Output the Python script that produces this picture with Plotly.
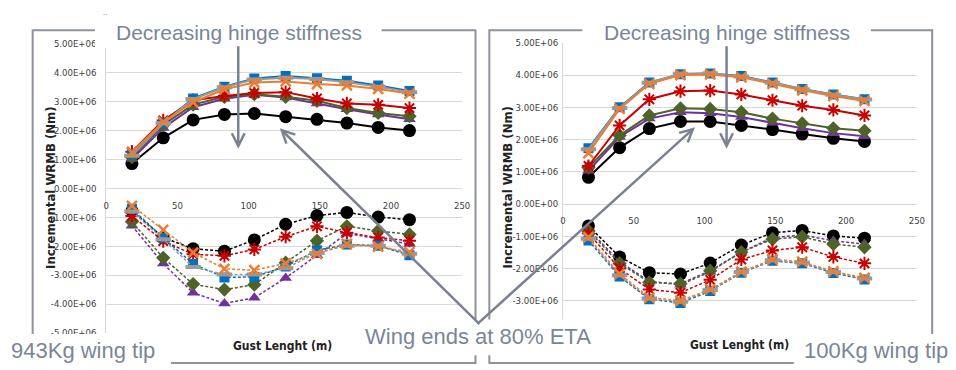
import plotly.graph_objects as go

# ---------------- data (values in units of 1E+06 Nm) ----------------
gust_length = [18, 40, 61, 83, 104, 126, 148, 169, 191, 213]

x_tick_values = [0, 50, 100, 150, 200, 250]
x_tick_labels = ["0", "50", "100", "150", "200", "250"]
y_tick_values = [5, 4, 3, 2, 1, 0, -1, -2, -3, -4, -5]
y_tick_labels_left = ["5.00E+06", "4.00E+06", "3.00E+06", "2.00E+06", "1.00E+06", "0.00E+00",
                      "-1.00E+06", "-2.00E+06", "-3.00E+06", "-4.00E+06", "-5.00E+06"]
y_tick_labels_right = ["5.00E+06", "4.00E+06", "3.00E+06", "2.00E+06", "1.00E+06", "0.00E+00",
                       "-1.00E+06", "-2.00E+06", "-3.00E+06", "", ""]

series_names = ["black", "purple", "green", "red", "blue", "gray", "orange"]

# 943Kg wing tip – positive (solid) and negative (dashed) increments
left_pos = {
    "black":  [0.86, 1.75, 2.37, 2.56, 2.59, 2.48, 2.39, 2.26, 2.11, 2.00],
    "purple": [1.02, 2.09, 2.81, 3.10, 3.24, 3.14, 2.94, 2.74, 2.56, 2.39],
    "green":  [1.08, 2.20, 2.90, 3.17, 3.26, 3.17, 3.03, 2.78, 2.61, 2.50],
    "red":    [1.27, 2.35, 3.05, 3.20, 3.30, 3.33, 3.11, 2.94, 2.89, 2.78],
    "blue":   [1.19, 2.25, 3.11, 3.52, 3.80, 3.89, 3.81, 3.72, 3.56, 3.37],
    "gray":   [1.13, 2.25, 3.09, 3.50, 3.77, 3.83, 3.78, 3.67, 3.52, 3.33],
    "orange": [1.25, 2.30, 2.98, 3.43, 3.66, 3.70, 3.61, 3.56, 3.44, 3.28],
}
left_neg = {
    "black":  [-0.78, -1.70, -2.09, -2.17, -1.78, -1.24, -0.94, -0.83, -0.99, -1.08],
    "purple": [-1.29, -2.60, -3.61, -3.98, -3.78, -3.10, -2.31, -1.56, -1.74, -1.92],
    "green":  [-1.15, -2.40, -3.31, -3.50, -3.33, -2.57, -1.81, -1.31, -1.47, -1.59],
    "red":    [-0.95, -1.82, -2.28, -2.33, -2.11, -1.67, -1.31, -1.53, -1.70, -1.81],
    "blue":   [-0.70, -1.71, -2.61, -3.08, -3.06, -2.70, -2.14, -1.94, -1.98, -2.31],
    "gray":   [-0.80, -1.76, -2.72, -2.98, -2.98, -2.76, -2.23, -1.98, -1.98, -2.26],
    "orange": [-0.60, -1.43, -2.22, -2.78, -2.83, -2.59, -2.26, -1.92, -2.01, -2.20],
}
# 100Kg wing tip
right_pos = {
    "black":  [0.83, 1.75, 2.34, 2.56, 2.56, 2.44, 2.31, 2.17, 2.04, 1.94],
    "purple": [1.03, 2.08, 2.65, 2.85, 2.82, 2.70, 2.52, 2.35, 2.20, 2.10],
    "green":  [1.13, 2.13, 2.75, 2.97, 2.95, 2.85, 2.65, 2.50, 2.35, 2.27],
    "red":    [1.18, 2.44, 3.25, 3.50, 3.52, 3.40, 3.22, 3.05, 2.92, 2.75],
    "blue":   [1.73, 3.00, 3.77, 4.03, 4.05, 3.97, 3.77, 3.57, 3.40, 3.25],
    "gray":   [1.70, 2.98, 3.76, 4.04, 4.06, 3.96, 3.76, 3.56, 3.39, 3.24],
    "orange": [1.58, 2.95, 3.73, 4.00, 4.02, 3.93, 3.73, 3.53, 3.35, 3.20],
}
right_neg = {
    "black":  [-0.68, -1.64, -2.13, -2.17, -1.83, -1.27, -0.89, -0.82, -0.99, -1.06],
    "purple": [-0.78, -1.79, -2.40, -2.50, -2.10, -1.49, -1.04, -0.96, -1.14, -1.24],
    "green":  [-0.83, -1.84, -2.43, -2.47, -2.07, -1.49, -1.09, -1.02, -1.24, -1.34],
    "red":    [-0.91, -2.00, -2.65, -2.75, -2.35, -1.72, -1.44, -1.34, -1.64, -1.84],
    "blue":   [-1.13, -2.25, -2.95, -3.07, -2.70, -2.13, -1.76, -1.84, -2.14, -2.34],
    "gray":   [-1.08, -2.21, -2.93, -3.03, -2.67, -2.11, -1.74, -1.81, -2.11, -2.31],
    "orange": [-1.03, -2.17, -2.90, -3.00, -2.65, -2.10, -1.72, -1.79, -2.09, -2.29],
}

# ---------------- styles ----------------
styles = {
    "black":  dict(color="#000000", symbol="circle", size=13, lw=0),
    "purple": dict(color="#7030A0", symbol="triangle-up", size=11, lw=0),
    "green":  dict(color="#4F6228", symbol="diamond", size=11, lw=0),
    "red":    dict(color="#C80000", symbol="asterisk", size=11, lw=2),
    "blue":   dict(color="#0070C0", symbol="square", size=10, lw=0),
    "gray":   dict(color="#9A9A9A", symbol="line-ew", size=11, lw=4),
    "orange": dict(color="#ED7D31", symbol="x-thin", size=10, lw=2.5),
}

W, H = 956, 370
def fx(x):
    return x / W
def fy(y):
    return 1 - y / H

fig = go.Figure()

panels = [
    (left_pos, "x", "y", "solid", 2),
    (left_neg, "x", "y", "3px,2px", 1.5),
    (right_pos, "x2", "y2", "solid", 2),
    (right_neg, "x2", "y2", "3px,2px", 1.5),
]
for data, xa, ya, dash, width in panels:
    for name in series_names:
        st = styles[name]
        fig.add_trace(go.Scatter(
            x=gust_length, y=data[name], xaxis=xa, yaxis=ya, mode="lines+markers",
            name=name, showlegend=False,
            line=dict(color=st["color"], width=width, dash=dash),
            marker=dict(symbol=st["symbol"], size=st["size"], color=st["color"],
                        line=dict(color=st["color"], width=st["lw"])),
        ))

# ---------------- axes ----------------
tick_font = dict(family="Liberation Sans Narrow, Arial Narrow, DejaVu Sans Condensed, sans-serif",
                 size=9.5, color="#404040")
grid_c = "#D9D9D9"

left_dom_x = [fx(104.5), fx(464.5)]
left_dom_y = [fy(337), fy(39)]
left_range = [-5, 5]
right_dom_x = [fx(566.5), fx(924.5)]
right_dom_y = [fy(337), fy(38)]
right_range = [-4, 5]

def zero_pos(dom, rng):
    return dom[0] + (0 - rng[0]) / (rng[1] - rng[0]) * (dom[1] - dom[0])

common_x = dict(range=[0, 250], tickvals=x_tick_values, ticktext=x_tick_labels, showgrid=False,
                zeroline=False, showline=True, linecolor=grid_c, linewidth=1, ticks="",
                tickfont=tick_font, anchor="free", fixedrange=True)
common_y = dict(tickvals=y_tick_values, showgrid=True, gridcolor=grid_c,
                gridwidth=1, zeroline=False, showline=True, linecolor=grid_c, linewidth=1,
                ticks="", tickfont=tick_font, fixedrange=True)

fig.update_layout(
    width=W, height=H, margin=dict(l=0, r=0, t=0, b=0),
    paper_bgcolor="white", plot_bgcolor="white", showlegend=False,
    xaxis=dict(common_x, domain=left_dom_x, position=zero_pos(left_dom_y, left_range),
               ticklabelstandoff=8),
    yaxis=dict(common_y, domain=left_dom_y, range=left_range, anchor="x",
               ticktext=y_tick_labels_left, ticklabelstandoff=7),
    xaxis2=dict(common_x, domain=right_dom_x, position=zero_pos(right_dom_y, right_range),
                ticklabelstandoff=8),
    yaxis2=dict(common_y, domain=right_dom_y, range=right_range, anchor="x2",
                ticktext=y_tick_labels_right, ticklabelstandoff=2),
)

# ---------------- frames and cover boxes ----------------
frame_c = "#8D929C"
shapes = []
for x0, x1 in [(30, 478), (492, 940)]:
    shapes.append(dict(type="rect", xref="paper", yref="paper", layer="above",
                       x0=fx(x0), x1=fx(x1), y0=fy(368), y1=fy(25),
                       line=dict(color=frame_c, width=2), fillcolor="rgba(0,0,0,0)"))
for x0, x1, y0, y1 in [(93, 383, 8, 43), (586, 878, 8, 43), (0, 170, 338, 372),
                       (345, 617, 323, 360), (800, 958, 338, 372)]:
    shapes.append(dict(type="rect", xref="paper", yref="paper", layer="above",
                       x0=fx(x0), x1=fx(x1), y0=fy(y1), y1=fy(y0),
                       line=dict(width=0), fillcolor="white"))
fig.update_layout(shapes=shapes)

# ---------------- text and arrows ----------------
txt_c = "#7A8599"
arrow_c = "#7A8291"
big = dict(family="Liberation Sans, Arial, sans-serif", size=21, color=txt_c)
bold_t = dict(family="Liberation Sans Narrow, Arial Narrow, DejaVu Sans Condensed, sans-serif",
              size=12, color="#222222")

ann = []
def text(x, y, s, font, angle=0):
    ann.append(dict(x=fx(x), y=fy(y), xref="paper", yref="paper", text=s, showarrow=False,
                    xanchor="center", yanchor="middle", font=font, textangle=angle))

text(238.5, 27, "Decreasing hinge stiffness", big)
text(732.5, 27, "Decreasing hinge stiffness", big)
text(481, 341, "Wing ends at 80% ETA", dict(big, size=22))
text(80.5, 355, "943Kg wing tip", dict(big, size=22))
text(883, 355, "100Kg wing tip", dict(big, size=22))
text(283, 350, "<b>Gust Lenght (m)</b>", bold_t)
text(745, 349, "<b>Gust Lenght (m)</b>", bold_t)
text(48, 187, "<b>Incremental WRMB (Nm)</b>", dict(bold_t, size=13), angle=-90)
text(510, 187, "<b>Incremental WRMB (Nm)</b>", dict(bold_t, size=13), angle=-90)
text(104, 11, "``", dict(family="Liberation Sans", size=7, color="#333333"))

def arrow(tipx, tipy, tailx, taily):
    ann.append(dict(x=fx(tipx), y=fy(tipy), xref="paper", yref="paper", text="",
                    showarrow=True, ax=tailx - tipx, ay=taily - tipy,
                    axref="pixel", ayref="pixel", arrowhead=5, arrowsize=1,
                    arrowwidth=2.5, arrowcolor=arrow_c, standoff=0, startstandoff=0))

arrow(238, 147, 238, 43)
arrow(732, 147, 732, 43)
arrow(280, 126, 481, 323)
arrow(700, 125, 481, 323)

fig.update_layout(annotations=ann)
fig.write_html("out.html")
